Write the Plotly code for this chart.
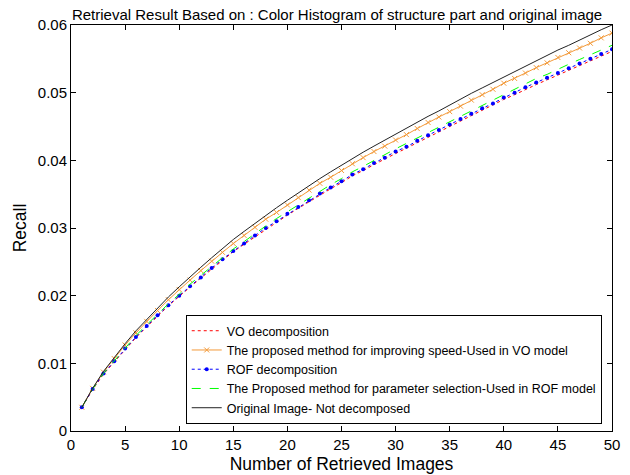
import plotly.graph_objects as go

num_images = list(range(1, 51))

recall_original = [
    0.0035, 0.0063, 0.0088, 0.0109, 0.0129, 0.0148, 0.0165, 0.0182, 0.0198, 0.0213,
    0.0228, 0.0242, 0.0256, 0.0270, 0.0283, 0.0295, 0.0307, 0.0319, 0.0330, 0.0341,
    0.0352, 0.0363, 0.0373, 0.0383, 0.0393, 0.0403, 0.0412, 0.0421, 0.0430, 0.0439,
    0.0447, 0.0456, 0.0465, 0.0473, 0.0482, 0.0490, 0.0499, 0.0507, 0.0515, 0.0524,
    0.0532, 0.0540, 0.0548, 0.0555, 0.0563, 0.0570, 0.0578, 0.0585, 0.0593, 0.0600,
]

recall_speed_vo = [
    0.0035, 0.0063, 0.0087, 0.0107, 0.0127, 0.0145, 0.0162, 0.0178, 0.0194, 0.0209,
    0.0223, 0.0237, 0.0251, 0.0264, 0.0277, 0.0289, 0.0301, 0.0313, 0.0323, 0.0334,
    0.0345, 0.0356, 0.0366, 0.0375, 0.0385, 0.0395, 0.0404, 0.0413, 0.0421, 0.0430,
    0.0438, 0.0447, 0.0456, 0.0464, 0.0472, 0.0480, 0.0489, 0.0497, 0.0505, 0.0514,
    0.0521, 0.0529, 0.0537, 0.0544, 0.0552, 0.0559, 0.0566, 0.0573, 0.0581, 0.0588,
]

recall_param_rof = [
    0.0035, 0.0062, 0.0085, 0.0104, 0.0123, 0.0141, 0.0157, 0.0173, 0.0188, 0.0202,
    0.0217, 0.0230, 0.0243, 0.0257, 0.0269, 0.0280, 0.0292, 0.0303, 0.0314, 0.0324,
    0.0334, 0.0345, 0.0354, 0.0364, 0.0373, 0.0383, 0.0391, 0.0400, 0.0409, 0.0417,
    0.0425, 0.0433, 0.0442, 0.0449, 0.0458, 0.0466, 0.0474, 0.0482, 0.0489, 0.0498,
    0.0505, 0.0513, 0.0521, 0.0527, 0.0535, 0.0542, 0.0549, 0.0556, 0.0563, 0.0570,
]

recall_rof = [
    0.0035, 0.0062, 0.0085, 0.0103, 0.0122, 0.0139, 0.0155, 0.0171, 0.0186, 0.0200,
    0.0214, 0.0227, 0.0241, 0.0254, 0.0266, 0.0277, 0.0289, 0.0300, 0.0310, 0.0321,
    0.0331, 0.0341, 0.0351, 0.0360, 0.0369, 0.0379, 0.0387, 0.0396, 0.0404, 0.0413,
    0.0420, 0.0429, 0.0437, 0.0445, 0.0453, 0.0461, 0.0469, 0.0477, 0.0484, 0.0493,
    0.0500, 0.0508, 0.0515, 0.0522, 0.0529, 0.0536, 0.0543, 0.0550, 0.0557, 0.0564,
]

recall_vo = [
    0.0035, 0.0061, 0.0084, 0.0102, 0.0121, 0.0138, 0.0154, 0.0170, 0.0185, 0.0199,
    0.0213, 0.0226, 0.0239, 0.0252, 0.0265, 0.0276, 0.0287, 0.0298, 0.0309, 0.0319,
    0.0329, 0.0339, 0.0349, 0.0358, 0.0367, 0.0377, 0.0385, 0.0394, 0.0402, 0.0410,
    0.0418, 0.0426, 0.0435, 0.0442, 0.0451, 0.0458, 0.0467, 0.0474, 0.0482, 0.0490,
    0.0497, 0.0505, 0.0512, 0.0519, 0.0526, 0.0533, 0.0540, 0.0547, 0.0554, 0.0561,
]

FONT = "Arial, Liberation Sans, sans-serif"

fig = go.Figure()

fig.add_trace(go.Scatter(
    x=num_images, y=recall_vo, mode="lines", name="VO decomposition",
    line=dict(color="#ff0000", width=1, dash="dot"),
))
fig.add_trace(go.Scatter(
    x=num_images, y=recall_speed_vo, mode="lines+markers",
    name="The proposed method for improving speed-Used in VO model",
    line=dict(color="#f39a3a", width=1),
    marker=dict(symbol="x-thin", size=5, color="#f39a3a",
                line=dict(color="#f39a3a", width=1)),
))
fig.add_trace(go.Scatter(
    x=num_images, y=recall_rof, mode="lines+markers", name="ROF decomposition",
    line=dict(color="#0000ff", width=1, dash="dot"),
    marker=dict(symbol="circle", size=4, color="#0000ff"),
))
fig.add_trace(go.Scatter(
    x=num_images, y=recall_param_rof, mode="lines",
    name="The Proposed method for parameter selection-Used in ROF model",
    line=dict(color="#00ff00", width=1, dash="dash"),
))
fig.add_trace(go.Scatter(
    x=num_images, y=recall_original, mode="lines",
    name="Original Image- Not decomposed",
    line=dict(color="#222222", width=1),
))

axis_common = dict(
    showline=True, linecolor="#000000", linewidth=1, mirror="ticks",
    ticks="inside", ticklen=5, tickcolor="#000000",
    showgrid=False, zeroline=False, automargin=False,
    tickfont=dict(family=FONT, size=15, color="#000000"),
)

fig.update_layout(
    width=630, height=475,
    margin=dict(l=71, r=18, t=25, b=44),
    paper_bgcolor="white", plot_bgcolor="white",
    font=dict(family=FONT, color="#000000"),
    title=dict(
        text="Retrieval Result Based on : Color Histogram of structure part and original image",
        font=dict(family=FONT, size=15, color="#000000"),
        x=0.535, xanchor="center", y=0.968, yanchor="middle",
    ),
    xaxis=dict(
        range=[0, 50], tickvals=list(range(0, 51, 5)),
        title=dict(text="Number of Retrieved Images",
                   font=dict(family=FONT, size=17.5), standoff=5),
        **axis_common,
    ),
    yaxis=dict(
        range=[0, 0.06], tickvals=[0, 0.01, 0.02, 0.03, 0.04, 0.05, 0.06],
        ticktext=["0", "0.01", "0.02", "0.03", "0.04", "0.05", "0.06"],
        title=dict(text="Recall", font=dict(family=FONT, size=17.5), standoff=6),
        **axis_common,
    ),
    legend=dict(
        x=0.981, y=0.017, xanchor="right", yanchor="bottom",
        bgcolor="white", bordercolor="#000000", borderwidth=1,
        font=dict(family=FONT, size=12.5, color="#000000"),
        tracegroupgap=0, itemwidth=30,
    ),
    showlegend=True,
)

fig.write_html("out.html")
